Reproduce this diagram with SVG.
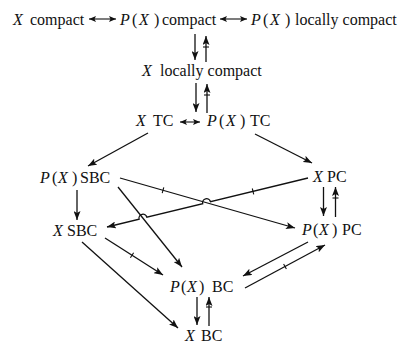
<svg xmlns="http://www.w3.org/2000/svg" width="403" height="344" viewBox="0 0 403 344">
<style>
text{font-family:"Liberation Serif","Times New Roman",serif;font-size:16px;fill:#111}
.i{font-style:italic}
.c line,.c path{stroke:#111;stroke-width:1.3;fill:none}
.c .a{marker-end:url(#ah)}
.c .d{marker-start:url(#sh);marker-end:url(#sh);stroke-width:1.1}
.c .t{stroke-width:1.1}
</style>
<defs>
<marker id="ah" markerUnits="userSpaceOnUse" markerWidth="10" markerHeight="7" refX="9" refY="3.5" orient="auto-start-reverse">
<path d="M0,0 L9,3.5 L0,7 L2,3.5 z" fill="#111" stroke="none"/>
</marker>
<marker id="sh" markerUnits="userSpaceOnUse" markerWidth="8" markerHeight="6" refX="7" refY="3" orient="auto-start-reverse">
<path d="M0,0 L7,3 L0,6 L1.5,3 z" fill="#111" stroke="none"/>
</marker>
</defs>
<rect width="403" height="344" fill="#fff"/>
<g id="xcompact"><text y="25"><tspan x="13" class="i">X</tspan><tspan x="30">compact</tspan></text></g>
<g id="pxcompact"><text y="25"><tspan x="120" class="i">P</tspan><tspan x="132">(</tspan><tspan x="139" class="i">X</tspan><tspan x="154">)</tspan><tspan x="162">compact</tspan></text></g>
<g id="pxlocally"><text y="25"><tspan x="251" class="i">P</tspan><tspan x="263">(</tspan><tspan x="270" class="i">X</tspan><tspan x="285">)</tspan><tspan x="295">locally compact</tspan></text></g>
<g id="xlocally"><text y="76"><tspan x="142" class="i">X</tspan><tspan x="160">locally compact</tspan></text></g>
<g id="xtc"><text y="126"><tspan x="136" class="i">X</tspan><tspan x="153">TC</tspan></text></g>
<g id="pxtc"><text y="126"><tspan x="207" class="i">P</tspan><tspan x="219">(</tspan><tspan x="226" class="i">X</tspan><tspan x="240">)</tspan><tspan x="250">TC</tspan></text></g>
<g id="pxsbc"><text y="183"><tspan x="40" class="i">P</tspan><tspan x="52">(</tspan><tspan x="58" class="i">X</tspan><tspan x="72">)</tspan><tspan x="80">SBC</tspan></text></g>
<g id="xpc"><text y="182"><tspan x="313" class="i">X</tspan><tspan x="327">PC</tspan></text></g>
<g id="xsbc"><text y="236"><tspan x="53" class="i">X</tspan><tspan x="67">SBC</tspan></text></g>
<g id="pxpc"><text y="235"><tspan x="302" class="i">P</tspan><tspan x="313">(</tspan><tspan x="319" class="i">X</tspan><tspan x="332">)</tspan><tspan x="342">PC</tspan></text></g>
<g id="pxbc"><text y="292"><tspan x="170" class="i">P</tspan><tspan x="181">(</tspan><tspan x="187" class="i">X</tspan><tspan x="199">)</tspan><tspan x="212">BC</tspan></text></g>
<g id="xbc"><text y="341"><tspan x="185" class="i">X</tspan><tspan x="201">BC</tspan></text></g>
<g id="connectors" class="c">
<line class="d" x1="89" y1="19" x2="116" y2="19"/>
<line class="d" x1="220" y1="19" x2="247" y2="19"/>
<line class="d" x1="180" y1="122" x2="200" y2="122"/>
<line class="a" x1="195" y1="34" x2="195" y2="60"/>
<line class="a" x1="206" y1="62" x2="206" y2="36"/>
<line class="t" x1="203" y1="47" x2="209" y2="47"/>
<line class="a" x1="196" y1="83" x2="196" y2="112"/>
<line class="a" x1="207" y1="113" x2="207" y2="84"/>
<line class="t" x1="204" y1="95" x2="210" y2="95"/>
<line class="a" x1="148" y1="133" x2="88" y2="166"/>
<line class="a" x1="255" y1="134" x2="312" y2="163"/>
<line class="a" x1="77" y1="190" x2="77" y2="220"/>
<line class="a" x1="323.5" y1="187" x2="323.5" y2="216"/>
<line class="a" x1="335.5" y1="217" x2="335.5" y2="187"/>
<line class="t" x1="332.5" y1="198" x2="338.5" y2="198"/>
<line class="a" x1="120" y1="178" x2="295" y2="228"/>
<line class="t" x1="163.8" y1="187.4" x2="162.2" y2="193.2"/>
<path class="a" d="M308,178 L210.5,201.75 A4,4 0 0 0 202.7,203.65 L146.9,217.25 A4,4 0 0 0 139.1,219.15 L107,227"/>
<line class="t" x1="253.7" y1="194.3" x2="252.3" y2="188.5"/>
<line class="a" x1="118" y1="187" x2="182" y2="267"/>
<line class="a" x1="105" y1="238" x2="163" y2="275"/>
<line class="t" x1="133.6" y1="252.7" x2="130.4" y2="257.7"/>
<line class="a" x1="82" y1="242" x2="178" y2="328"/>
<line class="a" x1="308" y1="242" x2="243" y2="276"/>
<line class="a" x1="245" y1="288" x2="325" y2="245"/>
<line class="t" x1="283.6" y1="263.9" x2="286.4" y2="269.1"/>
<line class="a" x1="197" y1="297" x2="197" y2="325"/>
<line class="a" x1="209" y1="326" x2="209" y2="297"/>
<line class="t" x1="206" y1="307" x2="212" y2="307"/>
</g>
</svg>
